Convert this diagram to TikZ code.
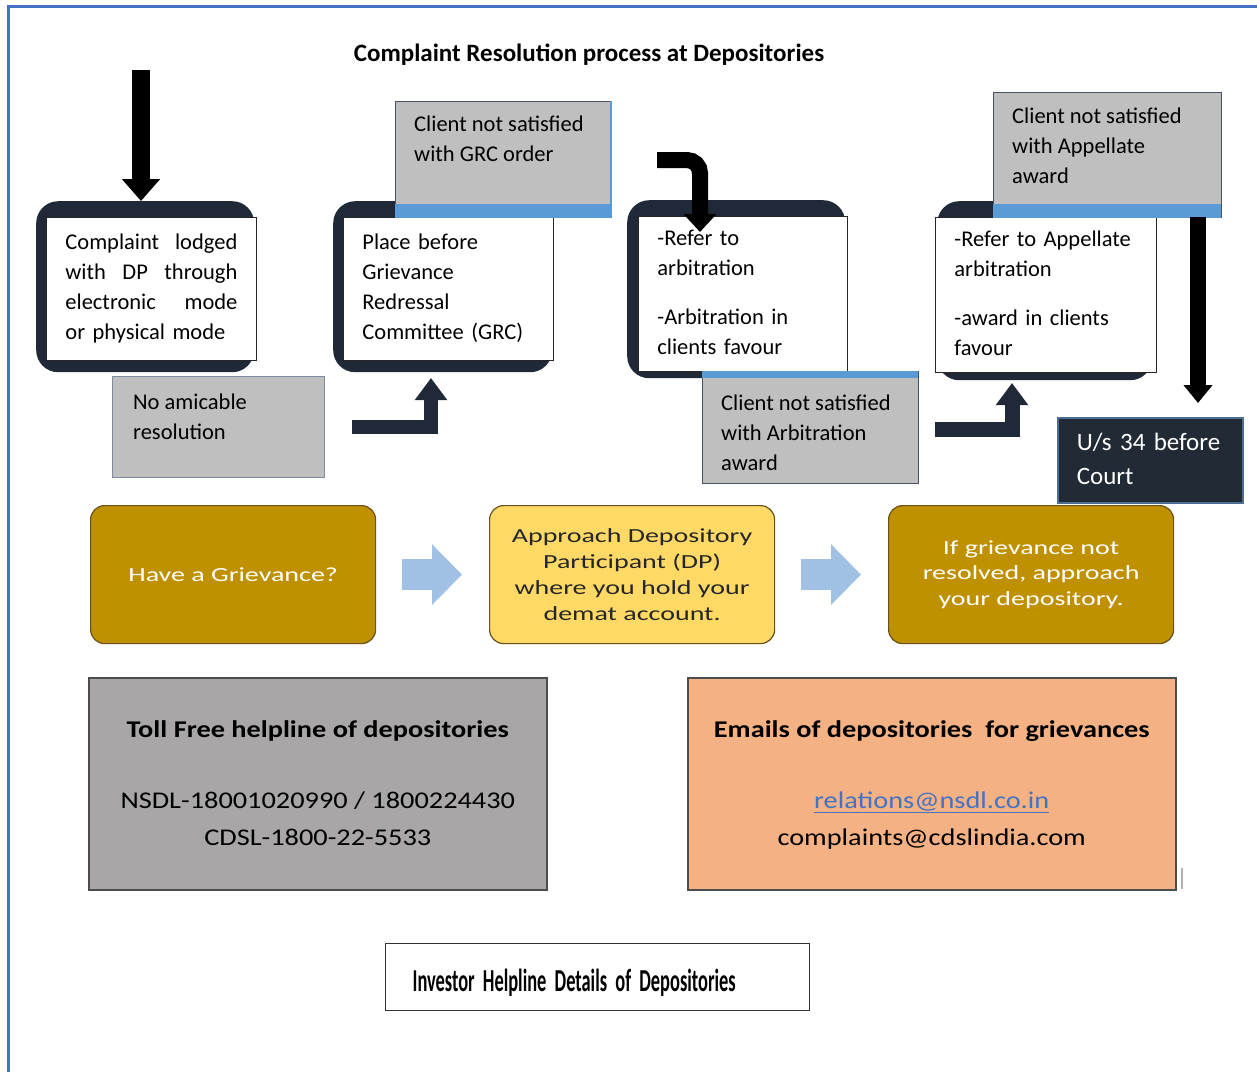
\documentclass[tikz,border=0pt]{standalone}
\usepackage{fontspec}
\usepackage{graphicx}
\setmainfont{Carlito}
\newfontfamily\widefont[FakeStretch=1.4]{Carlito}
\newfontfamily\helpfont[FakeStretch=1.18]{Carlito}
\usetikzlibrary{arrows.meta,positioning}

\definecolor{framenavy}{RGB}{31,41,56}
\definecolor{notegray}{RGB}{191,191,191}
\definecolor{noteedge}{RGB}{72,82,98}
\definecolor{amicedge}{RGB}{125,140,160}
\definecolor{stripeblue}{RGB}{91,155,213}
\definecolor{courtfill}{RGB}{34,42,53}
\definecolor{courtedge}{RGB}{76,110,146}
\definecolor{gold}{RGB}{191,144,0}
\definecolor{goldedge}{RGB}{105,82,25}
\definecolor{paleyellow}{RGB}{255,217,102}
\definecolor{paleblue}{RGB}{160,192,228}
\definecolor{tollgray}{RGB}{168,166,166}
\definecolor{peach}{RGB}{244,177,131}
\definecolor{linkblue}{RGB}{68,114,196}
\definecolor{pageblue}{RGB}{68,114,196}

\newcommand\fullline[1]{\leavevmode\hbox to 172pt{#1}}

\begin{document}
\begin{tikzpicture}[x=1pt,y=-1pt,line join=miter,
    roundframe/.style={fill=framenavy,rounded corners=22pt,anchor=north west,inner sep=0pt},
    whitebox/.style={fill=white,draw=black!85,line width=0.8pt,anchor=north west,
        inner xsep=19pt,align=left,font=\fontsize{22.5}{30}\selectfont},
    graynote/.style={fill=notegray,draw=noteedge,line width=1pt,anchor=north west,inner sep=0pt},
    notetext/.style={inner sep=0pt,align=left,font=\fontsize{22.5}{30}\selectfont},
    stripe/.style={fill=stripeblue},
    blackarrow/.style={draw=black,line width=18pt,-{Triangle[width=37pt,length=22pt]}},
    elbowarrow/.style={draw=framenavy,line width=14pt,-{Triangle[width=31pt,length=22pt]}},
    stepbox/.style={fill=gold,draw=goldedge,line width=1.2pt,rounded corners=14pt,
        anchor=north west,minimum width=285pt,minimum height=138pt,align=center,
        text=white,font=\widefont\fontsize{20}{25.7}\selectfont},
    palearrow/.style={draw=paleblue,line width=31pt,-{Triangle[width=59pt,length=30pt]},
        shorten <=26pt,shorten >=27pt},
    helpbox/.style={draw=black!70,line width=1.5pt,anchor=north west,minimum width=458pt,
        minimum height=212pt,align=center,font=\helpfont\fontsize{24}{37}\selectfont}
]
\useasboundingbox (0,0) rectangle (1257,1072);
\draw[pageblue,line width=2.5pt] (8.5,1072) -- (8.5,6.5) -- (1257,6.5);

\node[font=\fontsize{25}{29}\selectfont\bfseries] (title) at (589,55)
    {Complaint Resolution process at Depositories};

% dark frames behind the steps
\foreach \name/\x/\y/\w/\h in {frame1/36/201/218/171, frame2/333/201/219/171,
        frame3/627/200/218/178, frame4/937/201/215/179}
    \node[roundframe,minimum width=\w,minimum height=\h] (\name) at (\x,\y) {};

\node[whitebox,text width=172pt,minimum height=143pt] (lodged) at (46,217)
    {\strut\fullline{Complaint\hfill lodged}\\
     \fullline{with\hfill DP\hfill through}\\
     \fullline{electronic\hfill mode}\\
     or physical mode\strut};
\node[whitebox,text width=172pt,minimum height=143pt] (grc) at (343,217)
    {\strut Place before\\Grievance\\Redressal\\Committee (GRC)\strut};
\node[whitebox,text width=171pt,minimum height=155pt] (arbitration) at (638,216)
    {\strut -Refer to\\arbitration\\[19pt]-Arbitration in\\clients favour\strut};
\node[whitebox,text width=183pt,minimum height=155pt] (appellate) at (935,217)
    {\strut -Refer to Appellate\\arbitration\\[19pt]-award in clients\\favour\strut};

% grey notes
\node[graynote,draw=amicedge,minimum width=212,minimum height=101] (amicable) at (112,376) {};
\node[notetext,below right=12pt and 21pt of amicable.north west] (amicabletext)
    {\strut No amicable\\resolution};

\node[graynote,minimum width=215,minimum height=116] (grcnote) at (395,101) {};
\fill[stripe] (grcnote.south west) rectangle ++(215,-14);
\draw[stripeblue,line width=2pt] (grcnote.south east) -- (grcnote.north east);
\node[notetext,below right=9pt and 19pt of grcnote.north west] (grctext)
    {\strut Client not satisfied\\with GRC order};

\node[graynote,minimum width=216,minimum height=112] (arbnote) at (702,371) {};
\fill[stripe] (arbnote.north west) rectangle ++(216,7);
\node[notetext,below right=18pt and 19pt of arbnote.north west] (arbtext)
    {\strut Client not satisfied\\with Arbitration\\award};

\node[graynote,minimum width=228,minimum height=125] (appnote) at (993,92) {};
\fill[stripe] (appnote.south west) rectangle ++(228,-14);
\node[notetext,below right=10pt and 19pt of appnote.north west] (apptext)
    {\strut Client not satisfied\\with Appellate\\award};

\node[fill=courtfill,draw=courtedge,line width=1.5pt,anchor=north west,minimum width=185,
    minimum height=85,inner xsep=19pt,text width=147pt,align=left,text=white,
    font=\fontsize{25}{34}\selectfont] (court) at (1057,417) {\strut U/s 34 before\\Court\strut};

% arrows of the process
\coordinate (in1) at (141,70);
\draw[blackarrow] (in1) -- (in1 |- frame1.north);
\coordinate (in3) at (657,160);
\coordinate (tip3) at (700,232);
\draw[blackarrow,line width=16pt,rounded corners=13pt,-{Triangle[width=32pt,length=18pt]}]
    (in3) -| (tip3);
\coordinate (out4) at (1198,217);
\coordinate (tip4) at (1198,403);
\draw[blackarrow,line width=16pt,-{Triangle[width=28pt,length=18pt]}] (out4) -- (tip4);

\coordinate (from1) at (352,427);
\coordinate (to1) at (431,378);
\draw[elbowarrow] (from1) -| (to1);
\coordinate (from2) at (935,429);
\coordinate (to2) at (1012,383);
\draw[elbowarrow,line width=15pt] (from2) -| (to2);

% three steps
\node[stepbox] (grievance) at (90,505) {Have a Grievance?};
\node[stepbox,fill=paleyellow,text=black!85] (approach) at (489,505)
    {Approach Depository\\Participant (DP)\\where you hold your\\demat account.};
\node[stepbox] (notresolved) at (888,505) {If grievance not\\resolved, approach\\your depository.};
\foreach \a/\b in {grievance/approach, approach/notresolved}
    \draw[palearrow] (\a) -- (\b);

% helplines
\node[helpbox,fill=tollgray] (tollfree) at (88,677)
    {\strut\textbf{Toll Free helpline of depositories}\\[34pt]NSDL-18001020990 / 1800224430\\CDSL-1800-22-5533\strut};
\node[helpbox,fill=peach,minimum width=488] (emails) at (687,677)
    {\strut\textbf{Emails of depositories\ \ for grievances}\\[34pt]\textcolor{linkblue}{\underline{relations@nsdl.co.in}}\\complaints@cdslindia.com\strut};
\draw[black!30,line width=1.5pt] (1182,868) -- (1182,889);

\node[draw=black!80,line width=1.2pt,fill=white,anchor=north west,minimum width=424,
    minimum height=67,inner xsep=27pt,text width=370pt,align=left] (investor) at (385,943)
    {\raisebox{-3pt}[22pt][0pt]{\resizebox{323pt}{\height}{\fontsize{32}{32}\selectfont\bfseries
     Investor\hspace{0.45em}Helpline\hspace{0.45em}Details\hspace{0.45em}of\hspace{0.45em}Depositories}}};
\end{tikzpicture}
\end{document}
